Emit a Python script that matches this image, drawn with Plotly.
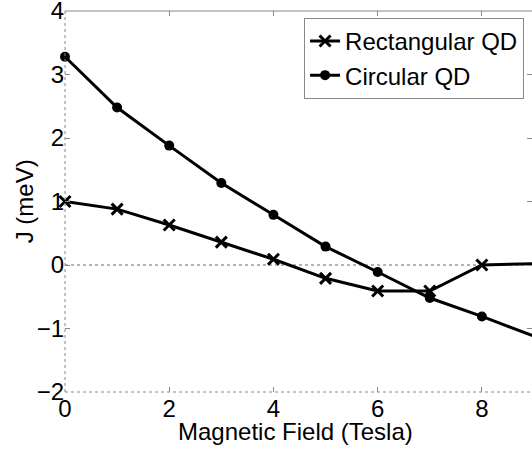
import plotly.graph_objects as go

field = [0, 1, 2, 3, 4, 5, 6, 7, 8, 9]
rect_qd = [1.0, 0.88, 0.63, 0.36, 0.09, -0.21, -0.41, -0.41, 0.0, 0.02]
circ_qd = [3.28, 2.48, 1.88, 1.29, 0.79, 0.29, -0.11, -0.52, -0.81, -1.12]
x_ticks = [0, 2, 4, 6, 8]
y_ticks = [-2, -1, 0, 1, 2, 3, 4]
x_title = "Magnetic Field (Tesla)"
y_title = "J (meV)"

FONT = "Liberation Sans, Arial, Helvetica, sans-serif"
FS = 24

fig = go.Figure()
fig.add_trace(go.Scatter(
    x=field, y=rect_qd, name="Rectangular QD", mode="lines+markers",
    line=dict(color="black", width=3),
    marker=dict(symbol="x-thin", size=11, line=dict(color="black", width=3), color="black"),
    cliponaxis=False,
))
fig.add_trace(go.Scatter(
    x=field, y=circ_qd, name="Circular QD", mode="lines+markers",
    line=dict(color="black", width=3),
    marker=dict(symbol="circle", size=10, color="black"),
    cliponaxis=False,
))

# frame lines
fig.add_shape(type="line", xref="paper", yref="paper", x0=0, x1=1, y0=1, y1=1,
              line=dict(color="#888", width=1))
fig.add_shape(type="line", xref="paper", yref="paper", x0=0, x1=1, y0=0, y1=0,
              line=dict(color="#888", width=1, dash="dot"))
fig.add_shape(type="line", xref="paper", yref="paper", x0=0, x1=0, y0=0, y1=1,
              line=dict(color="#888", width=1, dash="dot"))
# zero reference line
fig.add_shape(type="line", xref="paper", yref="y", x0=0, x1=1, y0=0, y1=0,
              line=dict(color="#666", width=1, dash="dot"), layer="below")

# axis titles as annotations
fig.add_annotation(text=x_title, xref="paper", yref="paper", x=0.493, y=-0.104,
                   xanchor="center", yanchor="middle", showarrow=False,
                   font=dict(family=FONT, size=FS, color="black"))
fig.add_annotation(text=y_title, xref="paper", yref="paper", x=-0.086, y=0.5,
                   xanchor="center", yanchor="middle", showarrow=False, textangle=-90,
                   font=dict(family=FONT, size=FS, color="black"))

fig.update_layout(
    width=532, height=449,
    margin=dict(l=65, r=0, t=11, b=57),
    paper_bgcolor="white", plot_bgcolor="white",
    font=dict(family=FONT, size=FS, color="black"),
    showlegend=True,
    legend=dict(
        x=0.983, y=0.982, xanchor="right", yanchor="top",
        bordercolor="#888", borderwidth=1, bgcolor="white",
        font=dict(family=FONT, size=FS), itemwidth=30,
        tracegroupgap=0, traceorder="normal",
    ),
    xaxis=dict(
        range=[0, 9 * 467 / 469], tickvals=x_ticks, ticks="inside", ticklen=5,
        tickcolor="#888", mirror="ticks", showline=False, showgrid=False, zeroline=False,
        tickfont=dict(size=FS), automargin=False, ticklabeloverflow="allow",
    ),
    yaxis=dict(
        range=[-2, 4], tickvals=y_ticks, ticks="inside", ticklen=5,
        tickcolor="#888", mirror="ticks", showline=False, showgrid=False, zeroline=False,
        tickfont=dict(size=FS), automargin=False, ticklabeloverflow="allow",
    ),
)

fig.write_html("out.html")
